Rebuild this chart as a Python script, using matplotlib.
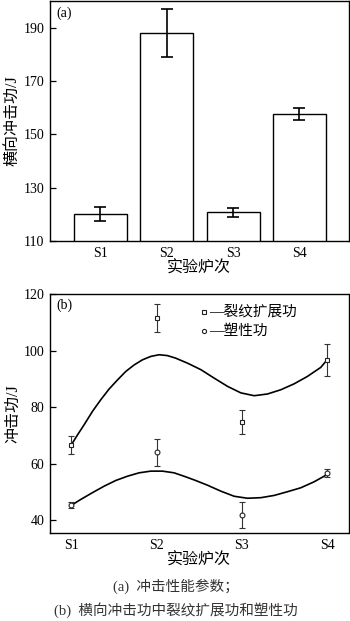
import matplotlib
matplotlib.use("Agg")
import matplotlib.pyplot as plt

plt.rcParams['font.family'] = ['Liberation Serif', 'Noto Sans CJK SC']
plt.rcParams['axes.unicode_minus'] = False

# ---------------------------------------------------------------------------
# Data
# ---------------------------------------------------------------------------

heats = ["S1", "S2", "S3", "S4"]
heat_pos = [1, 2, 3, 4]

# (a) transverse impact energy, J
impact_energy = [120.1, 187.9, 120.7, 157.5]
impact_err = [2.7, 9.0, 1.6, 2.2]

# (b) crack propagation energy and plastic energy, J
crack_energy = [66.6, 111.6, 74.6, 96.7]
crack_err = [3.1, 5.0, 4.3, 5.6]
plastic_energy = [45.2, 63.9, 41.8, 56.5]
plastic_err = [1.0, 4.8, 4.6, 1.4]

# fitted trend curves
crack_fit_x = [1.0, 1.074, 1.152, 1.249, 1.346, 1.444, 1.542, 1.639, 1.737,
               1.834, 1.931, 2.029, 2.126, 2.223, 2.364, 2.520, 2.676, 2.832,
               2.988, 3.144, 3.299, 3.456, 3.612, 3.767, 3.924, 4.0]
crack_fit_y = [66.6, 70.2, 73.8, 78.5, 82.6, 86.4, 89.6, 92.6, 94.9,
               96.7, 97.9, 98.5, 98.2, 97.3, 95.5, 93.2, 90.2, 87.3,
               85.0, 84.0, 84.6, 86.1, 88.2, 90.8, 94.0, 96.7]
plastic_fit_x = [1.0, 1.112, 1.249, 1.386, 1.522, 1.658, 1.795, 1.931, 2.068,
                 2.205, 2.340, 2.457, 2.598, 2.754, 2.910, 3.065, 3.222, 3.378,
                 3.533, 3.690, 3.845, 3.982, 4.0]
plastic_fit_y = [45.2, 47.3, 49.7, 52.0, 54.0, 55.5, 56.7, 57.3, 57.3,
                 56.7, 55.3, 54.0, 52.3, 50.2, 48.4, 47.7, 47.9, 48.7,
                 50.0, 51.4, 53.5, 55.8, 56.5]

# ---------------------------------------------------------------------------
# Figure
# ---------------------------------------------------------------------------

W, H = 350, 621
fig = plt.figure(figsize=(W / 100, H / 100), dpi=100)


def px_axes(left, top, right, bottom):
    return fig.add_axes([left / W, 1 - bottom / H, (right - left) / W, (bottom - top) / H])


def style(ax):
    for s in ax.spines.values():
        s.set_linewidth(1.0)
    ax.tick_params(axis="y", direction="in", length=4, width=0.9, labelsize=10, pad=4)
    ax.tick_params(axis="x", length=0, labelsize=10, pad=4)


# (a) bar chart
ax_a = px_axes(50, 1, 348.5, 241)
ax_a.bar(heat_pos, impact_energy, width=0.8, color="white", edgecolor="black",
         linewidth=1.0, zorder=2)
ax_a.errorbar(heat_pos, impact_energy, yerr=impact_err, fmt="none", ecolor="black",
              elinewidth=1.2, capsize=4, capthick=1.2, zorder=3)
ax_a.set_xlim(0.24, 4.74)
ax_a.set_ylim(110, 200)
ax_a.set_yticks([110, 130, 150, 170, 190])
ax_a.set_xticks(heat_pos)
ax_a.set_xticklabels(heats)
ax_a.set_ylabel("横向冲击功/J", fontsize=11.5, labelpad=2)
ax_a.set_xlabel("实验炉次", fontsize=11.5, labelpad=1)
ax_a.text(0.023, 0.95, "(a)", transform=ax_a.transAxes, fontsize=10,
          ha="left", va="center")
style(ax_a)

# (b) energies with fitted curves
ax_b = px_axes(50, 294, 348.5, 533)
ax_b.plot(crack_fit_x, crack_fit_y, color="black", linewidth=1.2, zorder=2,
          solid_joinstyle="round")
ax_b.plot(plastic_fit_x, plastic_fit_y, color="black", linewidth=1.2, zorder=2,
          solid_joinstyle="round")
ax_b.errorbar(heat_pos, crack_energy, yerr=crack_err, fmt="s", ms=3.3,
              mfc="white", mec="#222222", mew=0.8, ecolor="#333333",
              elinewidth=0.8, capsize=2.3, capthick=0.8, zorder=3)
ax_b.errorbar(heat_pos, plastic_energy, yerr=plastic_err, fmt="o", ms=3.5,
              mfc="white", mec="#222222", mew=0.8, ecolor="#333333",
              elinewidth=0.8, capsize=2.3, capthick=0.8, zorder=3)
ax_b.set_xlim(0.75, 4.25)
ax_b.set_ylim(35.4, 120)
ax_b.set_yticks([40, 60, 80, 100, 120])
ax_b.set_xticks(heat_pos)
ax_b.set_xticklabels(heats)
ax_b.set_ylabel("冲击功/J", fontsize=11.5, labelpad=2)
ax_b.set_xlabel("实验炉次", fontsize=11.5, labelpad=1)
ax_b.text(0.023, 0.954, "(b)", transform=ax_b.transAxes, fontsize=10,
          ha="left", va="center")

# legend drawn by hand: marker, dash, label
leg_x = (204 - 50) / 298.5
for y, mk, label in [(0.925, "s", "裂纹扩展功"), (0.846, "o", "塑性功")]:
    ax_b.plot([leg_x], [y], marker=mk, ms=3.0, mfc="white", mec="#222222",
              mew=0.8, transform=ax_b.transAxes, clip_on=False)
    ax_b.text(leg_x + 0.018, y, "—" + label, transform=ax_b.transAxes,
              fontsize=10.5, ha="left", va="center")
style(ax_b)

# caption
fig.text(113 / W, 1 - 586 / H, "(a)  冲击性能参数；", fontsize=10.5,
         ha="left", va="center", color="#333333")
fig.text(54 / W, 1 - 610 / H, "(b)  横向冲击功中裂纹扩展功和塑性功", fontsize=10.5,
         ha="left", va="center", color="#333333")

fig.savefig("out.png", dpi=100)
